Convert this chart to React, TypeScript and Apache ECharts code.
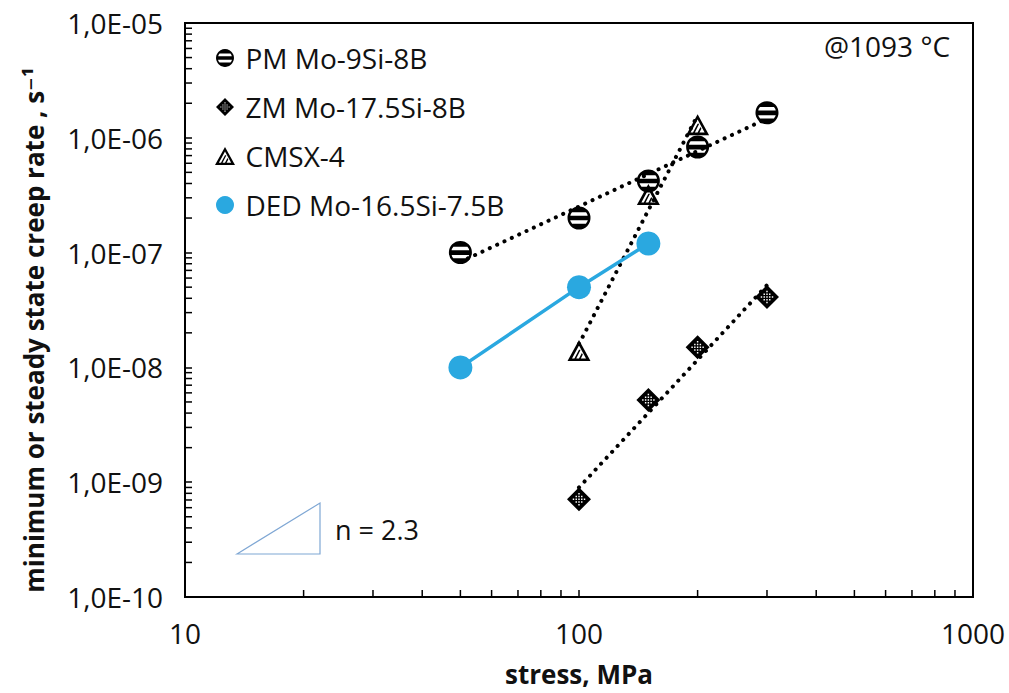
import React, { useEffect, useRef } from 'react';
import * as echarts from 'echarts';

// ---- data ----
const xTickLabels = ['10', '100', '1000'];
const stressPM = [50, 100, 150, 200, 300];
const ratePM = [1.0e-7, 2.0e-7, 4.2e-7, 8.3e-7, 1.65e-6];
const stressZM = [100, 150, 200, 300];
const rateZM = [7.1e-10, 5.2e-9, 1.5e-8, 4.1e-8];
const stressCMSX = [100, 150, 200];
const rateCMSX = [1.4e-8, 3.2e-7, 1.3e-6];
const stressDED = [50, 100, 150];
const rateDED = [1.0e-8, 5.0e-8, 1.2e-7];

// power-law trendline end points (as drawn)
const trendPMStress = [50, 300];
const trendPMRate = [8.3e-8, 1.47e-6];
const trendZMStress = [100, 300];
const trendZMRate = [9.0e-10, 5.2e-8];
const trendCMSXStress = [100, 200];
const trendCMSXRate = [1.6e-8, 1.57e-6];

// minor tick positions (log axis, 2..9 per decade)
const minorMultipliers = [2, 3, 4, 5, 6, 7, 8, 9];
const xDecades = [10, 100];
const yDecades = [1e-10, 1e-9, 1e-8, 1e-7, 1e-6];

const seriesNames = ['PM Mo-9Si-8B', 'ZM Mo-17.5Si-8B', 'CMSX-4', 'DED Mo-16.5Si-7.5B'];

// ---- symbol paths (style only) ----
const PM_PATH =
  'path://M0,10 A10,10 0 1,1 20,10 A10,10 0 1,1 0,10 Z ' +
  'M2,10 A8,8 0 1,0 18,10 A8,8 0 1,0 2,10 Z ' +
  'M1.34,5 A10,10 0 0,1 18.66,5 Z ' +
  'M0.2,8 L19.8,8 A10,10 0 0,1 19.8,12 L0.2,12 A10,10 0 0,1 0.2,8 Z ' +
  'M18.66,15 A10,10 0 0,1 1.34,15 Z';

function buildZMPath() {
  let d = 'path://M10,0 L20,10 L10,20 L0,10 Z';
  const step = 2.3;
  const h = 0.6;
  for (let i = -3; i <= 3; i++) {
    for (let j = -3; j <= 3; j++) {
      const cx = 10 + i * step;
      const cy = 10 + j * step;
      if (Math.abs(cx - 10) + Math.abs(cy - 10) <= 6.5) {
        d += ` M${(cx - h).toFixed(2)},${(cy - h).toFixed(2)} L${(cx - h).toFixed(2)},${(cy + h).toFixed(2)} L${(cx + h).toFixed(2)},${(cy + h).toFixed(2)} L${(cx + h).toFixed(2)},${(cy - h).toFixed(2)} Z`;
      }
    }
  }
  return d;
}
const ZM_PATH = buildZMPath();

const CMSX_PATH =
  'path://M10,0 L20,18 L0,18 Z ' +
  'M10,4.6 L3.9,15.7 L16.1,15.7 Z ' +
  'M6,15.7 L10,8.2 L11.4,8.2 L7.6,15.7 Z ' +
  'M10,15.7 L12.5,11 L13.3,12.4 L11.6,15.7 Z';

const FONT = '"Open Sans", "DejaVu Sans", sans-serif';
const TXT = '#111';
const BLUE = '#2AA8E0';

function pairs(xs: number[], ys: number[]) {
  return xs.map((x, i) => [x, ys[i]]);
}

export default function App() {
  const ref = useRef<HTMLDivElement>(null);

  useEffect(() => {
    if (!ref.current) return;
    const chart = echarts.init(ref.current, undefined, { renderer: 'svg' });

    const xMinor: number[] = [];
    xDecades.forEach((d) => minorMultipliers.forEach((m) => xMinor.push(d * m)));
    const yMinor: number[] = [];
    yDecades.forEach((d) => minorMultipliers.forEach((m) => yMinor.push(d * m)));

    const trendStyle = {
      color: '#000',
      width: 4,
      type: [0.1, 8] as any,
      cap: 'round' as const,
    };

    const option: any = {
      animation: false,
      backgroundColor: '#fff',
      grid: {
        left: 185,
        top: 23,
        right: 36,
        bottom: 96,
        show: true,
        borderColor: '#000',
        borderWidth: 2,
        containLabel: false,
        outerBoundsMode: 'none',
      },
      legend: {
        orient: 'vertical',
        left: 210,
        top: 39,
        itemWidth: 31,
        itemHeight: 18,
        itemGap: 21,
        selectedMode: false,
        textStyle: { fontSize: 28, fontFamily: FONT, color: TXT },
        data: [
          { name: seriesNames[0], icon: PM_PATH },
          { name: seriesNames[1], icon: ZM_PATH },
          { name: seriesNames[2], icon: CMSX_PATH },
          { name: seriesNames[3], icon: 'circle', itemStyle: { color: BLUE } },
        ],
      },
      xAxis: {
        type: 'log',
        logBase: 10,
        min: 10,
        max: 1000,
        splitNumber: 2,
        name: 'stress, MPa',
        nameLocation: 'middle',
        nameGap: 64,
        nameMoveOverlap: false,
        nameTextStyle: { fontSize: 26, fontWeight: 'bold', fontFamily: FONT, color: TXT },
        axisLine: { show: true, lineStyle: { color: '#000', width: 2 } },
        axisTick: { show: true, inside: true, length: 7, lineStyle: { color: '#000', width: 1.5 } },
        axisLabel: {
          fontSize: 28,
          fontFamily: FONT,
          color: TXT,
          margin: 22,
          formatter: (v: number) => {
            const idx = Math.round(Math.log10(v)) - 1;
            return xTickLabels[idx] ?? String(v);
          },
        },
        splitLine: { show: false },
      },
      yAxis: {
        type: 'log',
        logBase: 10,
        min: 1e-10,
        max: 1e-5,
        splitNumber: 5,
        name: 'minimum or steady state creep rate , s⁻¹',
        nameLocation: 'middle',
        nameGap: 138,
        nameMoveOverlap: false,
        nameTextStyle: {
          fontSize: 26,
          fontWeight: 'bold',
          fontFamily: FONT,
          color: TXT,
          padding: [0, 40, 0, 0],
        },
        axisLine: { show: true, lineStyle: { color: '#000', width: 2 } },
        axisTick: { show: true, inside: true, length: 7, lineStyle: { color: '#000', width: 1.5 } },
        axisLabel: {
          fontSize: 28,
          fontFamily: FONT,
          color: TXT,
          margin: 22,
          formatter: (v: number) => {
            const e = Math.round(Math.log10(v));
            const sign = e < 0 ? '-' : '+';
            return '1,0E' + sign + String(Math.abs(e)).padStart(2, '0');
          },
        },
        splitLine: { show: false },
      },
      graphic: [
        {
          type: 'polygon',
          shape: { points: [[237, 554], [320, 503], [320, 554]] },
          style: { fill: 'none', stroke: '#7FA7D4', lineWidth: 1.2 },
          z: 10,
        },
        {
          type: 'text',
          x: 335,
          y: 529,
          style: { text: 'n = 2.3', fill: TXT, fontSize: 27, fontFamily: FONT, align: 'left', verticalAlign: 'middle' },
          z: 10,
        },
        {
          type: 'text',
          x: 887,
          y: 46,
          style: { text: '@1093 °C', fill: TXT, fontSize: 28, fontFamily: FONT, align: 'center', verticalAlign: 'middle' },
          z: 10,
        },
      ],
      series: [
        {
          type: 'custom',
          silent: true,
          clip: false,
          z: 3,
          data: xMinor.map((v) => [v, 1e-10]),
          renderItem: (_p: any, api: any) => {
            const pt = api.coord([api.value(0), api.value(1)]);
            return {
              type: 'line',
              shape: { x1: pt[0], y1: pt[1], x2: pt[0], y2: pt[1] - 7 },
              style: { stroke: '#000', lineWidth: 1.5 },
            };
          },
        },
        {
          type: 'custom',
          silent: true,
          clip: false,
          z: 3,
          data: yMinor.map((v) => [10, v]),
          renderItem: (_p: any, api: any) => {
            const pt = api.coord([api.value(0), api.value(1)]);
            return {
              type: 'line',
              shape: { x1: pt[0], y1: pt[1], x2: pt[0] + 7, y2: pt[1] },
              style: { stroke: '#000', lineWidth: 1.5 },
            };
          },
        },
        {
          name: 'trend PM',
          type: 'line',
          data: pairs(trendPMStress, trendPMRate),
          showSymbol: false,
          silent: true,
          z: 2,
          lineStyle: trendStyle,
        },
        {
          name: 'trend ZM',
          type: 'line',
          data: pairs(trendZMStress, trendZMRate),
          showSymbol: false,
          silent: true,
          z: 2,
          lineStyle: trendStyle,
        },
        {
          name: 'trend CMSX',
          type: 'line',
          data: pairs(trendCMSXStress, trendCMSXRate),
          showSymbol: false,
          silent: true,
          z: 2,
          lineStyle: trendStyle,
        },
        {
          name: seriesNames[0],
          type: 'scatter',
          data: pairs(stressPM, ratePM),
          symbol: PM_PATH,
          symbolSize: 23,
          itemStyle: { color: '#000', opacity: 1 },
          z: 5,
        },
        {
          name: seriesNames[1],
          type: 'scatter',
          data: pairs(stressZM, rateZM),
          symbol: ZM_PATH,
          symbolSize: 24,
          itemStyle: { color: '#000', opacity: 1 },
          z: 5,
        },
        {
          name: seriesNames[2],
          type: 'scatter',
          data: pairs(stressCMSX, rateCMSX),
          symbol: CMSX_PATH,
          symbolSize: [23, 21],
          itemStyle: { color: '#000', opacity: 1 },
          z: 5,
        },
        {
          name: seriesNames[3],
          type: 'line',
          data: pairs(stressDED, rateDED),
          symbol: 'circle',
          symbolSize: 24,
          showSymbol: true,
          lineStyle: { color: BLUE, width: 3.5 },
          itemStyle: { color: BLUE },
          z: 6,
        },
      ],
    };

    chart.setOption(option);
    return () => chart.dispose();
  }, []);

  return (
    <div
      ref={ref}
      style={{ position: 'absolute', left: 0, top: 0, width: 1009, height: 693, background: '#fff' }}
    />
  );
}
